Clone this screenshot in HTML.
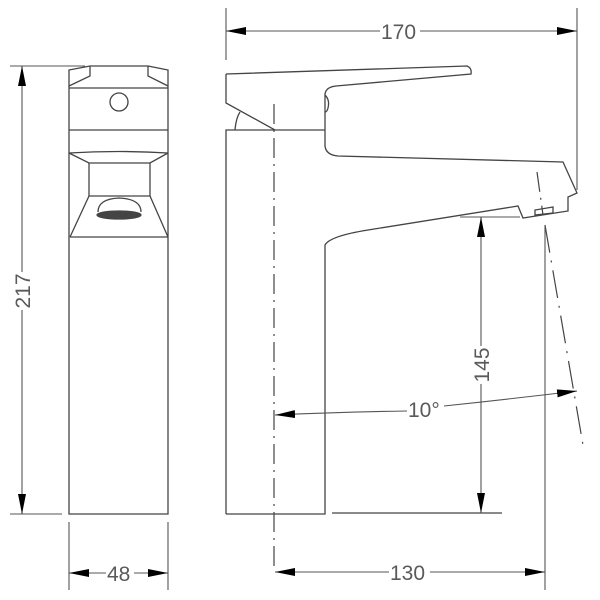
<!DOCTYPE html>
<html><head><meta charset="utf-8"><style>
html,body{margin:0;padding:0;background:#fff;width:600px;height:600px;overflow:hidden}
svg{display:block}
text{font-family:"Liberation Sans",sans-serif;font-size:21px;fill:#5a5a5a}
</style></head><body>
<svg width="600" height="600" viewBox="0 0 600 600" xmlns="http://www.w3.org/2000/svg">
<defs>
<marker id="a" viewBox="0 0 20 8" refX="20" refY="4" markerWidth="20" markerHeight="8" markerUnits="userSpaceOnUse" orient="auto"><path d="M0,0 L20,4 L0,8 Z" fill="#000"/></marker>
</defs>
<g fill="none" stroke="#444" stroke-width="1.3">
<!-- left view -->
<path d="M69,514 L69,70 L90,66 L148,66 L168,70 L168,514 Z"/>
<path d="M90,66 L90,76 L69,86 M148,66 L148,76 L168,86"/>
<path d="M69,88 L168,88 M69,130 L168,130"/>
<circle cx="119" cy="102" r="9"/>
<path d="M69,153 Q119,150 168,153"/>
<path d="M69,153 L89,163 L150,163 L168,153"/>
<path d="M89,163 L89,196 L150,196 L150,163"/>
<path d="M89,196 L70,237 M150,196 L168,237 M70,237 L168,237"/>
<path d="M98,212 Q98,199 119,198 Q141,199 141,212"/>
<ellipse cx="119" cy="215" rx="22" ry="4" fill="#444"/>
<!-- side view body -->
<path d="M226,514 L226,130 L325,130"/>
<path d="M226,74 L226,103 L275,130"/>
<path d="M235,130 Q236,118 240,112"/>
<path d="M226,74 L467,66 Q472,68 471,74 L336,86"/>
<path d="M336,86 Q326,87 325,94 L325,146 Q326,155 338,156 L563,162 L577,193 L568,197 L568,211 L523,218 L518,206 L368,230 Q330,236 325,245 L325,514 L226,514"/>
<path d="M325,95 Q330,100 328,108 Q327,112 325,112"/>
<path d="M535,210 L535,215 L553,213 L553,207 Z"/>
<path d="M332,513 L502,513"/>
</g>
<!-- center lines -->
<g stroke="#444" stroke-width="1.2" fill="none" stroke-dasharray="20,6,2,6">
<path d="M274,104 L274,572"/>
<path d="M537,172 L543,215"/>
<path d="M545,225 L583,445" stroke-dasharray="28,8,2,8"/>
</g>
<!-- dimensions -->
<g stroke="#555" stroke-width="1.1" fill="none">
<path d="M226,8 L226,60 M577,8 L577,190"/>
<path d="M10,66 L85,66 M10,514 L62,514"/>
<path d="M69,522 L69,590 M168,522 L168,590"/>
<path d="M545,225 L545,590"/>
<path d="M460,217 L520,217"/>
<path d="M380,31 L226,31" marker-end="url(#a)"/>
<path d="M420,31 L577,31" marker-end="url(#a)"/>
<path d="M22,272 L22,66" marker-end="url(#a)"/>
<path d="M22,310 L22,514" marker-end="url(#a)"/>
<path d="M106,573 L69,573" marker-end="url(#a)"/>
<path d="M134,573 L168,573" marker-end="url(#a)"/>
<path d="M389,572 L275,572" marker-end="url(#a)"/>
<path d="M430,572 L545,572" marker-end="url(#a)"/>
<path d="M481,346 L481,217" marker-end="url(#a)"/>
<path d="M481,384 L481,513" marker-end="url(#a)"/>
<path d="M407,411 Q340,412 275,415" marker-end="url(#a)"/>
<path d="M444,406 Q510,399 577,391" marker-end="url(#a)"/>
</g>
<text x="381" y="39">170</text>
<text x="107" y="581">48</text>
<text x="390" y="580">130</text>
<text x="408" y="417">10°</text>
<text transform="translate(30,291) rotate(-90)" text-anchor="middle">217</text>
<text transform="translate(489,365) rotate(-90)" text-anchor="middle">145</text>
</svg>
</body></html>
